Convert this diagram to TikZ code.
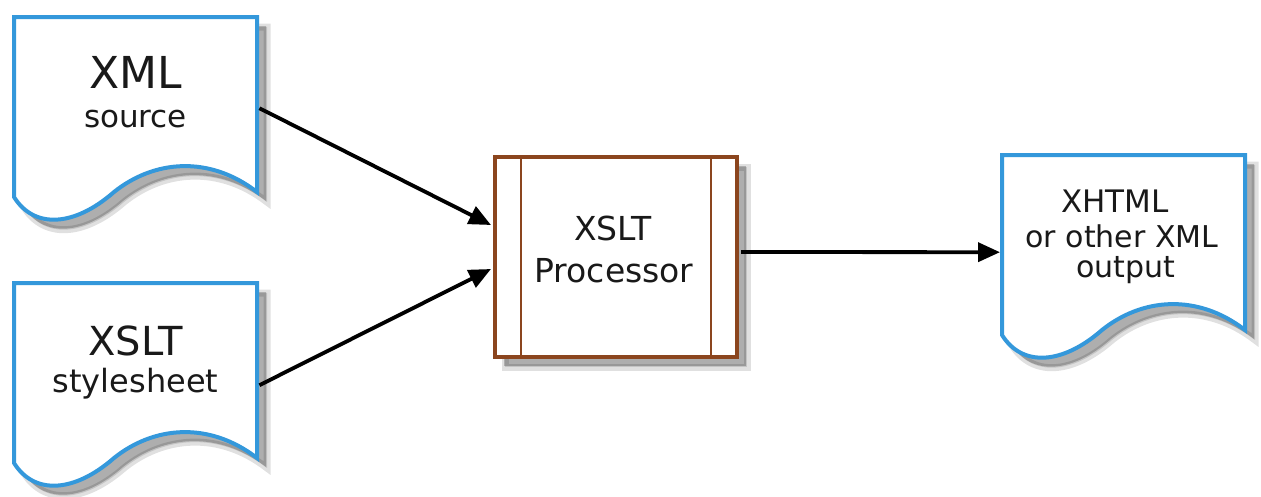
\documentclass[tikz,border=0pt]{standalone}
\usepackage{fontspec}
\setmainfont{DejaVu Sans}
\usetikzlibrary{arrows.meta}
\definecolor{docblue}{RGB}{52,152,219}
\definecolor{procbrown}{RGB}{139,69,30}
\definecolor{txtgray}{RGB}{25,25,25}
\newcommand{\mydocpath}{(0,0) -- (243,0) -- (243,175) .. controls (195,138) and (140,143) .. (100,175) .. controls (60,210) and (20,212) .. (0,180) -- cycle}
\tikzset{
  docline/.style={draw=docblue, line width=4pt, fill=white, line join=miter},
  shadowsoft/.style={fill=black, draw=black, line width=7pt, opacity=0.12},
  shadowcore/.style={fill=black, opacity=0.22},
  docnode/.style={minimum width=243pt, minimum height=175pt, inner sep=0pt, anchor=north west},
  procbox/.style={draw=procbrown, line width=4pt, fill=white, minimum width=242pt, minimum height=200pt, inner sep=0pt},
  innerline/.style={draw=procbrown, line width=1.6pt},
  lbl/.style={anchor=base, inner sep=0pt, text=txtgray},
  conn/.style={-{Triangle[length=22pt,width=19pt]}, line width=3.8pt, black},
}
\begin{document}
\begin{tikzpicture}[x=1pt,y=-1pt]
\useasboundingbox[fill=white] (0,0) rectangle (1261,496);
% shadows
\foreach \sx/\sy in {14/17, 14/283, 1002/155}{
  \begin{scope}[shift={(\sx+10,\sy+10)}]
    \path[shadowsoft] \mydocpath;
  \end{scope}
  \begin{scope}[shift={(\sx+9,\sy+9)}]
    \path[shadowcore] \mydocpath;
  \end{scope}
}
\path[shadowsoft] (505,167) rectangle (747,367);
\path[shadowcore] (504,166) rectangle (746,366);
% documents
\node[docnode] (doc1) at (14,17) {};
\node[docnode] (doc2) at (14,283) {};
\node[docnode] (doc3) at (1002,155) {};
\begin{scope}[shift={(14,17)}]
  \path[docline] \mydocpath;
\end{scope}
\begin{scope}[shift={(14,283)}]
  \path[docline] \mydocpath;
\end{scope}
\begin{scope}[shift={(1002,155)}]
  \path[docline] \mydocpath;
\end{scope}
% processor
\node[procbox] (proc) at (616,257) {};
\draw[innerline] ([xshift=28pt]proc.north west) -- ([xshift=28pt]proc.south west);
\draw[innerline] ([xshift=-28pt]proc.north east) -- ([xshift=-28pt]proc.south east);
% labels
\node[lbl, font=\fontsize{44}{44}\selectfont] (t1a) at (135.5,88) {XML};
\node[lbl, font=\fontsize{31}{31}\selectfont] (t1b) at (135.5,127) {source};
\node[lbl, font=\fontsize{40}{40}\selectfont] (t2a) at (135.5,355) {XSLT};
\node[lbl, font=\fontsize{32}{32}\selectfont] (t2b) at (135.5,392) {stylesheet};
\node[lbl, font=\fontsize{33}{33}\selectfont] (tpa) at (613,240) {XSLT};
\node[lbl, font=\fontsize{33}{33}\selectfont] (tpb) at (614,282) {Processor};
\node[lbl, font=\fontsize{31}{31}\selectfont] (t3a) at (1115,212) {XHTML};
\node[lbl, font=\fontsize{30}{30}\selectfont] (t3b) at (1122,247) {or other XML};
\node[lbl, font=\fontsize{30}{30}\selectfont] (t3c) at (1126,277) {output};
% connectors
\draw[conn] ([xshift=2pt,yshift=-3.5pt]doc1.east) -- ([xshift=-2pt,yshift=32pt]proc.west);
\draw[conn] ([xshift=2pt,yshift=-14.5pt]doc2.east) -- ([xshift=-2pt,yshift=-12pt]proc.west);
\draw[conn] ([xshift=2pt,yshift=5pt]proc.east) -- ([xshift=-2pt,yshift=-9.5pt]doc3.west);
\end{tikzpicture}
\end{document}
